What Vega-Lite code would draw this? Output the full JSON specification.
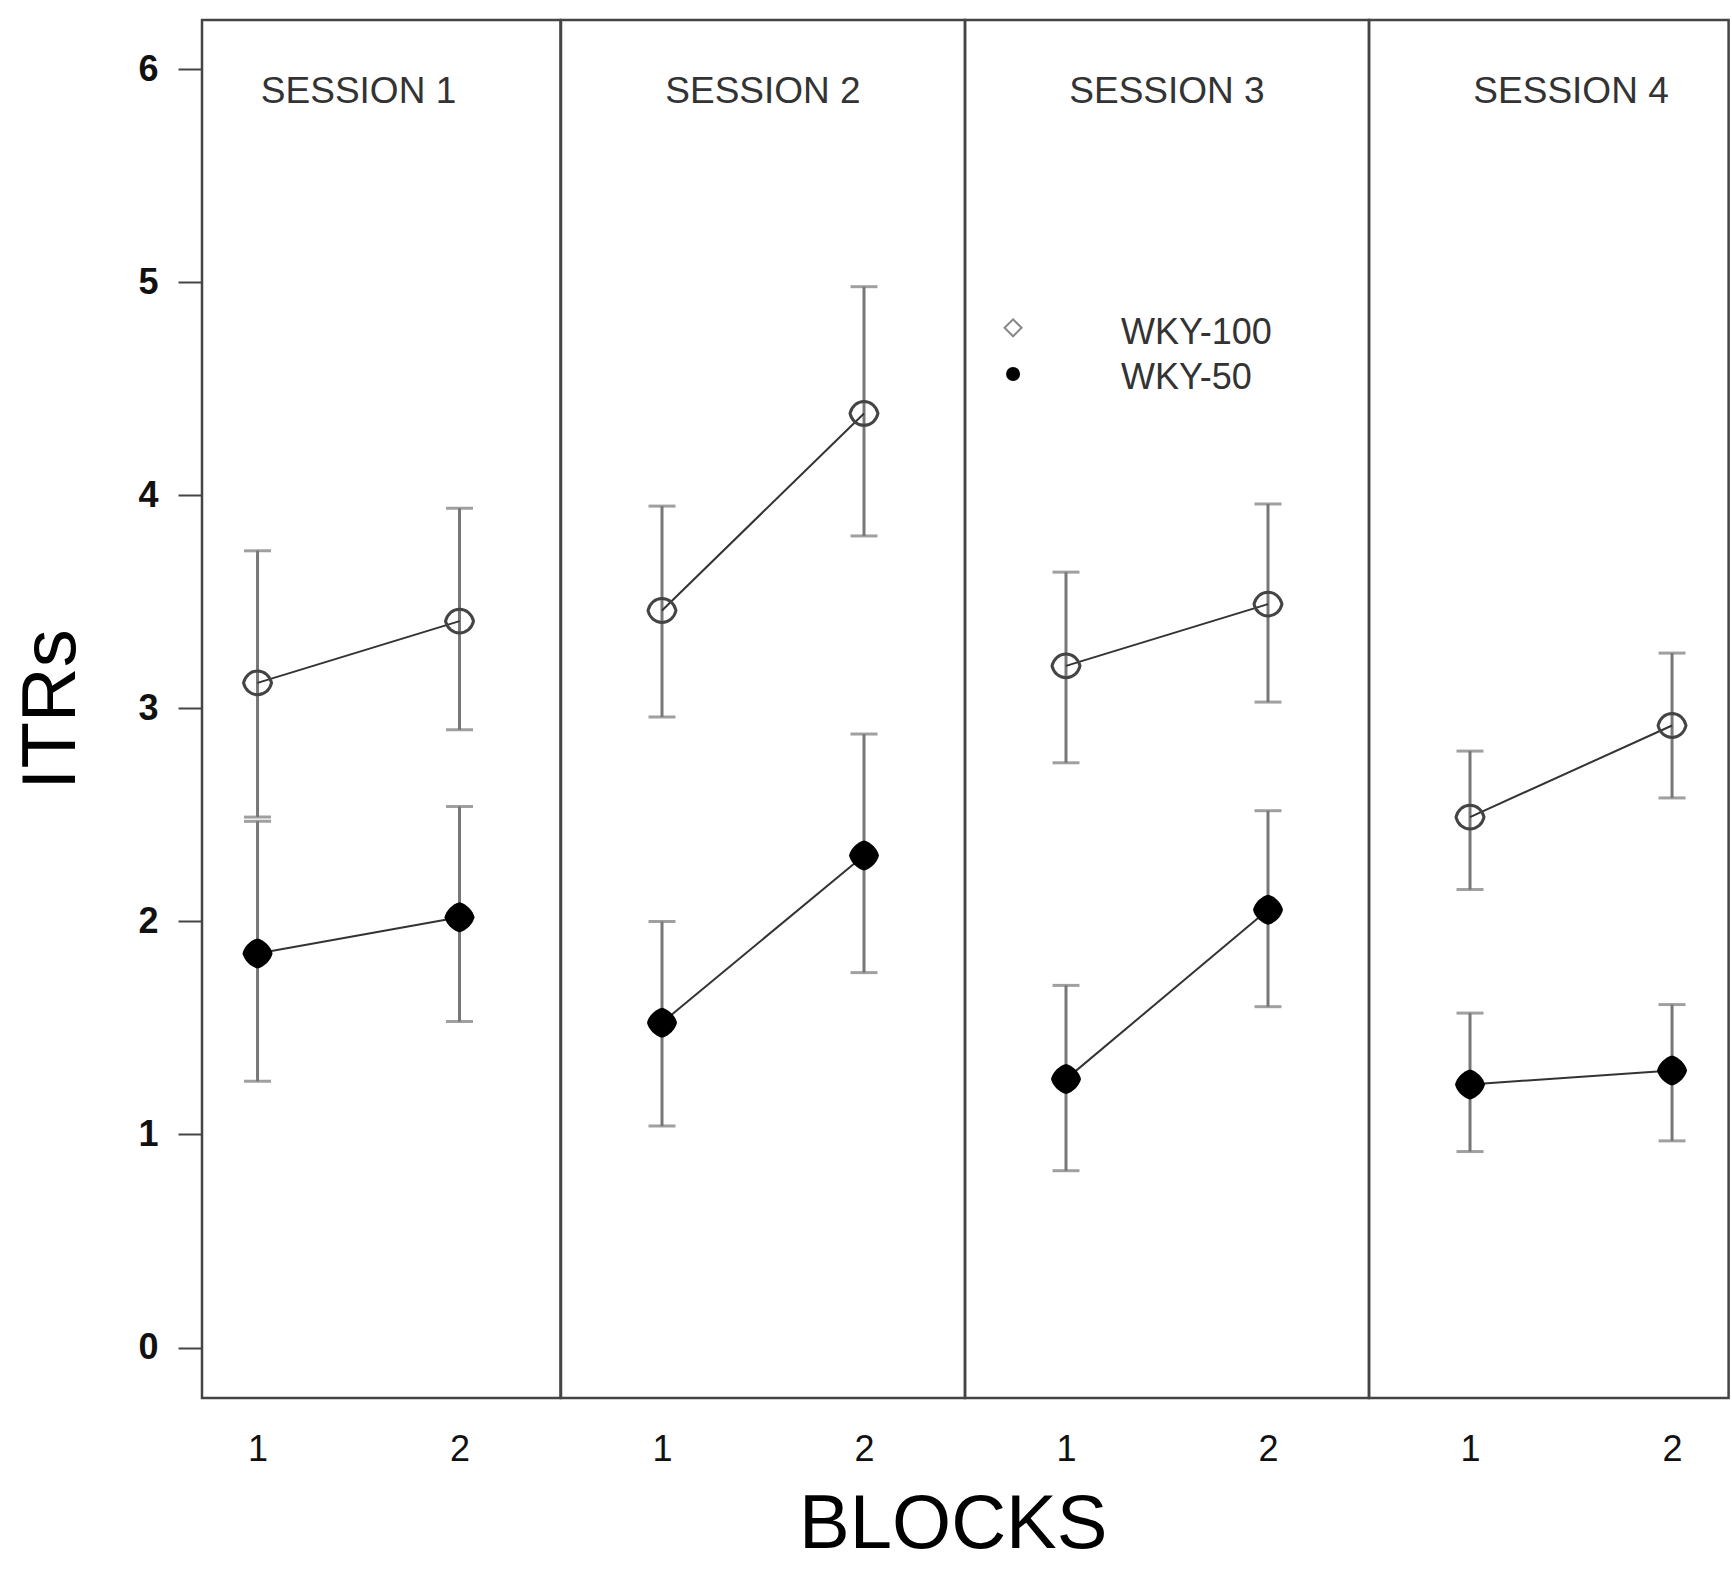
{
 "$schema": "https://vega.github.io/schema/vega-lite/v6.json",
 "background": "white",
 "padding": {"left": 12, "top": 18, "right": 0, "bottom": 0},
 "bounds": "flush",
 "datasets": {
  "itr": [
   {"session": 1, "block": 1, "group": "WKY-100", "mean": 3.12, "lo": 2.49, "hi": 3.74},
   {"session": 1, "block": 2, "group": "WKY-100", "mean": 3.41, "lo": 2.90, "hi": 3.94},
   {"session": 1, "block": 1, "group": "WKY-50", "mean": 1.85, "lo": 1.25, "hi": 2.47},
   {"session": 1, "block": 2, "group": "WKY-50", "mean": 2.02, "lo": 1.53, "hi": 2.54},
   {"session": 2, "block": 1, "group": "WKY-100", "mean": 3.46, "lo": 2.96, "hi": 3.95},
   {"session": 2, "block": 2, "group": "WKY-100", "mean": 4.385, "lo": 3.81, "hi": 4.98},
   {"session": 2, "block": 1, "group": "WKY-50", "mean": 1.525, "lo": 1.04, "hi": 2.00},
   {"session": 2, "block": 2, "group": "WKY-50", "mean": 2.31, "lo": 1.76, "hi": 2.88},
   {"session": 3, "block": 1, "group": "WKY-100", "mean": 3.20, "lo": 2.745, "hi": 3.64},
   {"session": 3, "block": 2, "group": "WKY-100", "mean": 3.49, "lo": 3.03, "hi": 3.96},
   {"session": 3, "block": 1, "group": "WKY-50", "mean": 1.26, "lo": 0.83, "hi": 1.70},
   {"session": 3, "block": 2, "group": "WKY-50", "mean": 2.055, "lo": 1.60, "hi": 2.52},
   {"session": 4, "block": 1, "group": "WKY-100", "mean": 2.49, "lo": 2.15, "hi": 2.80},
   {"session": 4, "block": 2, "group": "WKY-100", "mean": 2.92, "lo": 2.58, "hi": 3.26},
   {"session": 4, "block": 1, "group": "WKY-50", "mean": 1.235, "lo": 0.92, "hi": 1.57},
   {"session": 4, "block": 2, "group": "WKY-50", "mean": 1.30, "lo": 0.97, "hi": 1.61}
  ]
 },
 "data": {"name": "itr"},
 "title": {"text": "BLOCKS", "orient": "bottom", "anchor": "middle", "fontSize": 76, "fontWeight": "normal", "font": "Liberation Sans", "color": "#000", "offset": 20, "dx": 82},
 "spacing": 0,
 "hconcat": [
  {
   "width": 358.5, "height": 1378,
   "transform": [{"filter": "datum.session == 1"}],
   "encoding": {"x": {"field": "block", "type": "quantitative", "scale": {"domain": [0.725, 2.5], "nice": false, "zero": false}, "axis": {"values": [1, 2], "title": null, "ticks": false, "domain": false, "grid": false, "labelFontSize": 36, "labelFont": "Liberation Sans", "labelColor": "#111", "labelPadding": 34, "format": "d", "labelFlush": false}}},
   "layer": [
    {"mark": {"type": "rule", "color": "#777", "strokeWidth": 3}, "encoding": {"y": {"field": "lo", "type": "quantitative", "scale": {"domain": [-0.237, 6.232], "nice": false, "zero": false}, "axis": {"values": [0, 1, 2, 3, 4, 5, 6], "title": "ITRs", "titleFontSize": 76, "titleFontWeight": "normal", "titleFont": "Liberation Sans", "titleColor": "#000", "titlePadding": 47, "labelFontSize": 36, "labelFontWeight": "bold", "labelFont": "Liberation Sans", "labelColor": "#111", "labelPadding": 20, "tickSize": 24, "tickWidth": 2, "tickColor": "#444", "domain": false, "grid": false, "format": "d"}}, "y2": {"field": "hi"}}},
    {"mark": {"type": "tick", "orient": "horizontal", "size": 27, "thickness": 3, "color": "#777"}, "encoding": {"y": {"field": "lo", "type": "quantitative", "scale": {"domain": [-0.237, 6.232], "nice": false, "zero": false}, "axis": {"values": [0, 1, 2, 3, 4, 5, 6], "title": "ITRs", "titleFontSize": 76, "titleFontWeight": "normal", "titleFont": "Liberation Sans", "titleColor": "#000", "titlePadding": 47, "labelFontSize": 36, "labelFontWeight": "bold", "labelFont": "Liberation Sans", "labelColor": "#111", "labelPadding": 20, "tickSize": 24, "tickWidth": 2, "tickColor": "#444", "domain": false, "grid": false, "format": "d"}}}},
    {"mark": {"type": "tick", "orient": "horizontal", "size": 27, "thickness": 3, "color": "#777"}, "encoding": {"y": {"field": "hi", "type": "quantitative", "scale": {"domain": [-0.237, 6.232], "nice": false, "zero": false}, "axis": {"values": [0, 1, 2, 3, 4, 5, 6], "title": "ITRs", "titleFontSize": 76, "titleFontWeight": "normal", "titleFont": "Liberation Sans", "titleColor": "#000", "titlePadding": 47, "labelFontSize": 36, "labelFontWeight": "bold", "labelFont": "Liberation Sans", "labelColor": "#111", "labelPadding": 20, "tickSize": 24, "tickWidth": 2, "tickColor": "#444", "domain": false, "grid": false, "format": "d"}}}},
    {"mark": {"type": "line", "color": "#333", "strokeWidth": 2}, "encoding": {"y": {"field": "mean", "type": "quantitative", "scale": {"domain": [-0.237, 6.232], "nice": false, "zero": false}, "axis": {"values": [0, 1, 2, 3, 4, 5, 6], "title": "ITRs", "titleFontSize": 76, "titleFontWeight": "normal", "titleFont": "Liberation Sans", "titleColor": "#000", "titlePadding": 47, "labelFontSize": 36, "labelFontWeight": "bold", "labelFont": "Liberation Sans", "labelColor": "#111", "labelPadding": 20, "tickSize": 24, "tickWidth": 2, "tickColor": "#444", "domain": false, "grid": false, "format": "d"}}, "detail": {"field": "group"}}},
    {"transform": [{"filter": "datum.group == 'WKY-100'"}], "mark": {"type": "point", "shape": "M-1,0C-0.88,-0.5,-0.5,-0.85,0,-0.85C0.5,-0.85,0.88,-0.5,1,0C0.88,0.5,0.5,0.85,0,0.85C-0.5,0.85,-0.88,0.5,-1,0Z", "size": 784, "filled": false, "stroke": "#444", "strokeWidth": 3, "opacity": 1}, "encoding": {"y": {"field": "mean", "type": "quantitative", "scale": {"domain": [-0.237, 6.232], "nice": false, "zero": false}, "axis": {"values": [0, 1, 2, 3, 4, 5, 6], "title": "ITRs", "titleFontSize": 76, "titleFontWeight": "normal", "titleFont": "Liberation Sans", "titleColor": "#000", "titlePadding": 47, "labelFontSize": 36, "labelFontWeight": "bold", "labelFont": "Liberation Sans", "labelColor": "#111", "labelPadding": 20, "tickSize": 24, "tickWidth": 2, "tickColor": "#444", "domain": false, "grid": false, "format": "d"}}}},
    {"transform": [{"filter": "datum.group == 'WKY-50'"}], "mark": {"type": "point", "shape": "M0,-1C0.45,-0.9,0.9,-0.45,1,0C0.9,0.45,0.45,0.9,0,1C-0.45,0.9,-0.9,0.45,-1,0C-0.9,-0.45,-0.45,-0.9,0,-1Z", "size": 900, "filled": true, "color": "#000", "opacity": 1}, "encoding": {"y": {"field": "mean", "type": "quantitative", "scale": {"domain": [-0.237, 6.232], "nice": false, "zero": false}, "axis": {"values": [0, 1, 2, 3, 4, 5, 6], "title": "ITRs", "titleFontSize": 76, "titleFontWeight": "normal", "titleFont": "Liberation Sans", "titleColor": "#000", "titlePadding": 47, "labelFontSize": 36, "labelFontWeight": "bold", "labelFont": "Liberation Sans", "labelColor": "#111", "labelPadding": 20, "tickSize": 24, "tickWidth": 2, "tickColor": "#444", "domain": false, "grid": false, "format": "d"}}}},
    {"transform": [{"filter": "datum.block == 1 && datum.group == 'WKY-50'"}], "mark": {"type": "text", "text": "SESSION 1", "fontSize": 37, "color": "#333", "font": "Liberation Sans"}, "encoding": {"x": {"datum": 1.5, "type": "quantitative", "scale": {"domain": [0.725, 2.5], "nice": false, "zero": false}, "axis": {"values": [1, 2], "title": null, "ticks": false, "domain": false, "grid": false, "labelFontSize": 36, "labelFont": "Liberation Sans", "labelColor": "#111", "labelPadding": 34, "format": "d", "labelFlush": false}}, "y": {"datum": 5.896, "type": "quantitative", "scale": {"domain": [-0.237, 6.232], "nice": false, "zero": false}, "axis": {"values": [0, 1, 2, 3, 4, 5, 6], "title": "ITRs", "titleFontSize": 76, "titleFontWeight": "normal", "titleFont": "Liberation Sans", "titleColor": "#000", "titlePadding": 47, "labelFontSize": 36, "labelFontWeight": "bold", "labelFont": "Liberation Sans", "labelColor": "#111", "labelPadding": 20, "tickSize": 24, "tickWidth": 2, "tickColor": "#444", "domain": false, "grid": false, "format": "d"}}}}
   ]
  },
  {
   "width": 404, "height": 1378,
   "transform": [{"filter": "datum.session == 2"}],
   "encoding": {"x": {"field": "block", "type": "quantitative", "scale": {"domain": [0.5, 2.5], "nice": false, "zero": false}, "axis": {"values": [1, 2], "title": null, "ticks": false, "domain": false, "grid": false, "labelFontSize": 36, "labelFont": "Liberation Sans", "labelColor": "#111", "labelPadding": 34, "format": "d", "labelFlush": false}}},
   "layer": [
    {"mark": {"type": "rule", "color": "#777", "strokeWidth": 3}, "encoding": {"y": {"field": "lo", "type": "quantitative", "scale": {"domain": [-0.237, 6.232], "nice": false, "zero": false}, "axis": null}, "y2": {"field": "hi"}}},
    {"mark": {"type": "tick", "orient": "horizontal", "size": 27, "thickness": 3, "color": "#777"}, "encoding": {"y": {"field": "lo", "type": "quantitative", "scale": {"domain": [-0.237, 6.232], "nice": false, "zero": false}, "axis": null}}},
    {"mark": {"type": "tick", "orient": "horizontal", "size": 27, "thickness": 3, "color": "#777"}, "encoding": {"y": {"field": "hi", "type": "quantitative", "scale": {"domain": [-0.237, 6.232], "nice": false, "zero": false}, "axis": null}}},
    {"mark": {"type": "line", "color": "#333", "strokeWidth": 2}, "encoding": {"y": {"field": "mean", "type": "quantitative", "scale": {"domain": [-0.237, 6.232], "nice": false, "zero": false}, "axis": null}, "detail": {"field": "group"}}},
    {"transform": [{"filter": "datum.group == 'WKY-100'"}], "mark": {"type": "point", "shape": "M-1,0C-0.88,-0.5,-0.5,-0.85,0,-0.85C0.5,-0.85,0.88,-0.5,1,0C0.88,0.5,0.5,0.85,0,0.85C-0.5,0.85,-0.88,0.5,-1,0Z", "size": 784, "filled": false, "stroke": "#444", "strokeWidth": 3, "opacity": 1}, "encoding": {"y": {"field": "mean", "type": "quantitative", "scale": {"domain": [-0.237, 6.232], "nice": false, "zero": false}, "axis": null}}},
    {"transform": [{"filter": "datum.group == 'WKY-50'"}], "mark": {"type": "point", "shape": "M0,-1C0.45,-0.9,0.9,-0.45,1,0C0.9,0.45,0.45,0.9,0,1C-0.45,0.9,-0.9,0.45,-1,0C-0.9,-0.45,-0.45,-0.9,0,-1Z", "size": 900, "filled": true, "color": "#000", "opacity": 1}, "encoding": {"y": {"field": "mean", "type": "quantitative", "scale": {"domain": [-0.237, 6.232], "nice": false, "zero": false}, "axis": null}}},
    {"transform": [{"filter": "datum.block == 1 && datum.group == 'WKY-50'"}], "mark": {"type": "text", "text": "SESSION 2", "fontSize": 37, "color": "#333", "font": "Liberation Sans"}, "encoding": {"x": {"datum": 1.5, "type": "quantitative", "scale": {"domain": [0.5, 2.5], "nice": false, "zero": false}, "axis": {"values": [1, 2], "title": null, "ticks": false, "domain": false, "grid": false, "labelFontSize": 36, "labelFont": "Liberation Sans", "labelColor": "#111", "labelPadding": 34, "format": "d", "labelFlush": false}}, "y": {"datum": 5.896, "type": "quantitative", "scale": {"domain": [-0.237, 6.232], "nice": false, "zero": false}, "axis": null}}}
   ]
  },
  {
   "width": 404, "height": 1378,
   "transform": [{"filter": "datum.session == 3"}],
   "encoding": {"x": {"field": "block", "type": "quantitative", "scale": {"domain": [0.5, 2.5], "nice": false, "zero": false}, "axis": {"values": [1, 2], "title": null, "ticks": false, "domain": false, "grid": false, "labelFontSize": 36, "labelFont": "Liberation Sans", "labelColor": "#111", "labelPadding": 34, "format": "d", "labelFlush": false}}},
   "layer": [
    {"mark": {"type": "rule", "color": "#777", "strokeWidth": 3}, "encoding": {"y": {"field": "lo", "type": "quantitative", "scale": {"domain": [-0.237, 6.232], "nice": false, "zero": false}, "axis": null}, "y2": {"field": "hi"}}},
    {"mark": {"type": "tick", "orient": "horizontal", "size": 27, "thickness": 3, "color": "#777"}, "encoding": {"y": {"field": "lo", "type": "quantitative", "scale": {"domain": [-0.237, 6.232], "nice": false, "zero": false}, "axis": null}}},
    {"mark": {"type": "tick", "orient": "horizontal", "size": 27, "thickness": 3, "color": "#777"}, "encoding": {"y": {"field": "hi", "type": "quantitative", "scale": {"domain": [-0.237, 6.232], "nice": false, "zero": false}, "axis": null}}},
    {"mark": {"type": "line", "color": "#333", "strokeWidth": 2}, "encoding": {"y": {"field": "mean", "type": "quantitative", "scale": {"domain": [-0.237, 6.232], "nice": false, "zero": false}, "axis": null}, "detail": {"field": "group"}}},
    {"transform": [{"filter": "datum.group == 'WKY-100'"}], "mark": {"type": "point", "shape": "M-1,0C-0.88,-0.5,-0.5,-0.85,0,-0.85C0.5,-0.85,0.88,-0.5,1,0C0.88,0.5,0.5,0.85,0,0.85C-0.5,0.85,-0.88,0.5,-1,0Z", "size": 784, "filled": false, "stroke": "#444", "strokeWidth": 3, "opacity": 1}, "encoding": {"y": {"field": "mean", "type": "quantitative", "scale": {"domain": [-0.237, 6.232], "nice": false, "zero": false}, "axis": null}}},
    {"transform": [{"filter": "datum.group == 'WKY-50'"}], "mark": {"type": "point", "shape": "M0,-1C0.45,-0.9,0.9,-0.45,1,0C0.9,0.45,0.45,0.9,0,1C-0.45,0.9,-0.9,0.45,-1,0C-0.9,-0.45,-0.45,-0.9,0,-1Z", "size": 900, "filled": true, "color": "#000", "opacity": 1}, "encoding": {"y": {"field": "mean", "type": "quantitative", "scale": {"domain": [-0.237, 6.232], "nice": false, "zero": false}, "axis": null}}},
    {"transform": [{"filter": "datum.block == 1 && datum.group == 'WKY-50'"}], "mark": {"type": "text", "text": "SESSION 3", "fontSize": 37, "color": "#333", "font": "Liberation Sans"}, "encoding": {"x": {"datum": 1.5, "type": "quantitative", "scale": {"domain": [0.5, 2.5], "nice": false, "zero": false}, "axis": {"values": [1, 2], "title": null, "ticks": false, "domain": false, "grid": false, "labelFontSize": 36, "labelFont": "Liberation Sans", "labelColor": "#111", "labelPadding": 34, "format": "d", "labelFlush": false}}, "y": {"datum": 5.896, "type": "quantitative", "scale": {"domain": [-0.237, 6.232], "nice": false, "zero": false}, "axis": null}}},
    {"transform": [{"filter": "datum.block == 1 && datum.group == 'WKY-100'"}], "mark": {"type": "point", "shape": "diamond", "size": 289, "filled": false, "stroke": "#888", "strokeWidth": 2, "opacity": 1}, "encoding": {"x": {"datum": 0.738, "type": "quantitative", "scale": {"domain": [0.5, 2.5], "nice": false, "zero": false}, "axis": {"values": [1, 2], "title": null, "ticks": false, "domain": false, "grid": false, "labelFontSize": 36, "labelFont": "Liberation Sans", "labelColor": "#111", "labelPadding": 34, "format": "d", "labelFlush": false}}, "y": {"datum": 4.787, "type": "quantitative", "scale": {"domain": [-0.237, 6.232], "nice": false, "zero": false}, "axis": null}}},
    {"transform": [{"filter": "datum.block == 1 && datum.group == 'WKY-50'"}], "mark": {"type": "point", "shape": "circle", "size": 196, "filled": true, "color": "#000", "opacity": 1}, "encoding": {"x": {"datum": 0.738, "type": "quantitative", "scale": {"domain": [0.5, 2.5], "nice": false, "zero": false}, "axis": {"values": [1, 2], "title": null, "ticks": false, "domain": false, "grid": false, "labelFontSize": 36, "labelFont": "Liberation Sans", "labelColor": "#111", "labelPadding": 34, "format": "d", "labelFlush": false}}, "y": {"datum": 4.57, "type": "quantitative", "scale": {"domain": [-0.237, 6.232], "nice": false, "zero": false}, "axis": null}}},
    {"transform": [{"filter": "datum.block == 1 && datum.group == 'WKY-100'"}], "mark": {"type": "text", "fontSize": 36, "color": "#333", "font": "Liberation Sans", "align": "left", "baseline": "middle"}, "encoding": {"x": {"datum": 1.272, "type": "quantitative", "scale": {"domain": [0.5, 2.5], "nice": false, "zero": false}, "axis": {"values": [1, 2], "title": null, "ticks": false, "domain": false, "grid": false, "labelFontSize": 36, "labelFont": "Liberation Sans", "labelColor": "#111", "labelPadding": 34, "format": "d", "labelFlush": false}}, "y": {"datum": 4.763, "type": "quantitative", "scale": {"domain": [-0.237, 6.232], "nice": false, "zero": false}, "axis": null}, "text": {"field": "group"}}},
    {"transform": [{"filter": "datum.block == 1 && datum.group == 'WKY-50'"}], "mark": {"type": "text", "fontSize": 36, "color": "#333", "font": "Liberation Sans", "align": "left", "baseline": "middle"}, "encoding": {"x": {"datum": 1.272, "type": "quantitative", "scale": {"domain": [0.5, 2.5], "nice": false, "zero": false}, "axis": {"values": [1, 2], "title": null, "ticks": false, "domain": false, "grid": false, "labelFontSize": 36, "labelFont": "Liberation Sans", "labelColor": "#111", "labelPadding": 34, "format": "d", "labelFlush": false}}, "y": {"datum": 4.55, "type": "quantitative", "scale": {"domain": [-0.237, 6.232], "nice": false, "zero": false}, "axis": null}, "text": {"field": "group"}}}
   ]
  },
  {
   "width": 359.6, "height": 1378,
   "transform": [{"filter": "datum.session == 4"}],
   "encoding": {"x": {"field": "block", "type": "quantitative", "scale": {"domain": [0.5, 2.28], "nice": false, "zero": false}, "axis": {"values": [1, 2], "title": null, "ticks": false, "domain": false, "grid": false, "labelFontSize": 36, "labelFont": "Liberation Sans", "labelColor": "#111", "labelPadding": 34, "format": "d", "labelFlush": false}}},
   "layer": [
    {"mark": {"type": "rule", "color": "#777", "strokeWidth": 3}, "encoding": {"y": {"field": "lo", "type": "quantitative", "scale": {"domain": [-0.237, 6.232], "nice": false, "zero": false}, "axis": null}, "y2": {"field": "hi"}}},
    {"mark": {"type": "tick", "orient": "horizontal", "size": 27, "thickness": 3, "color": "#777"}, "encoding": {"y": {"field": "lo", "type": "quantitative", "scale": {"domain": [-0.237, 6.232], "nice": false, "zero": false}, "axis": null}}},
    {"mark": {"type": "tick", "orient": "horizontal", "size": 27, "thickness": 3, "color": "#777"}, "encoding": {"y": {"field": "hi", "type": "quantitative", "scale": {"domain": [-0.237, 6.232], "nice": false, "zero": false}, "axis": null}}},
    {"mark": {"type": "line", "color": "#333", "strokeWidth": 2}, "encoding": {"y": {"field": "mean", "type": "quantitative", "scale": {"domain": [-0.237, 6.232], "nice": false, "zero": false}, "axis": null}, "detail": {"field": "group"}}},
    {"transform": [{"filter": "datum.group == 'WKY-100'"}], "mark": {"type": "point", "shape": "M-1,0C-0.88,-0.5,-0.5,-0.85,0,-0.85C0.5,-0.85,0.88,-0.5,1,0C0.88,0.5,0.5,0.85,0,0.85C-0.5,0.85,-0.88,0.5,-1,0Z", "size": 784, "filled": false, "stroke": "#444", "strokeWidth": 3, "opacity": 1}, "encoding": {"y": {"field": "mean", "type": "quantitative", "scale": {"domain": [-0.237, 6.232], "nice": false, "zero": false}, "axis": null}}},
    {"transform": [{"filter": "datum.group == 'WKY-50'"}], "mark": {"type": "point", "shape": "M0,-1C0.45,-0.9,0.9,-0.45,1,0C0.9,0.45,0.45,0.9,0,1C-0.45,0.9,-0.9,0.45,-1,0C-0.9,-0.45,-0.45,-0.9,0,-1Z", "size": 900, "filled": true, "color": "#000", "opacity": 1}, "encoding": {"y": {"field": "mean", "type": "quantitative", "scale": {"domain": [-0.237, 6.232], "nice": false, "zero": false}, "axis": null}}},
    {"transform": [{"filter": "datum.block == 1 && datum.group == 'WKY-50'"}], "mark": {"type": "text", "text": "SESSION 4", "fontSize": 37, "color": "#333", "font": "Liberation Sans"}, "encoding": {"x": {"datum": 1.5, "type": "quantitative", "scale": {"domain": [0.5, 2.28], "nice": false, "zero": false}, "axis": {"values": [1, 2], "title": null, "ticks": false, "domain": false, "grid": false, "labelFontSize": 36, "labelFont": "Liberation Sans", "labelColor": "#111", "labelPadding": 34, "format": "d", "labelFlush": false}}, "y": {"datum": 5.896, "type": "quantitative", "scale": {"domain": [-0.237, 6.232], "nice": false, "zero": false}, "axis": null}}}
   ]
  }
 ],
 "config": {"view": {"stroke": "#444", "strokeWidth": 2.5}, "font": "Liberation Sans"}
}
